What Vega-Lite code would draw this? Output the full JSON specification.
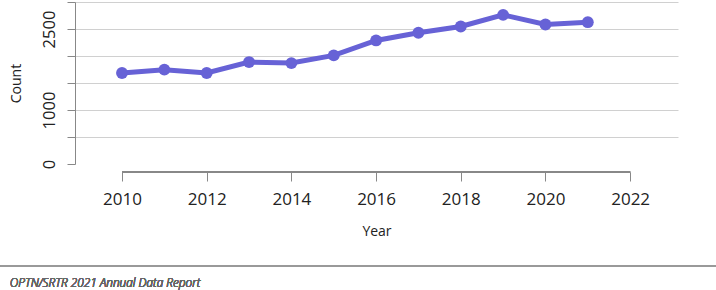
{
  "$schema": "https://vega.github.io/schema/vega-lite/v6.json",
  "autosize": "none",
  "width": 603,
  "height": 162,
  "padding": {"left": 75, "top": 2, "right": 38, "bottom": 126},
  "background": "white",
  "config": {
    "view": {"stroke": null},
    "font": "Open Sans",
    "axis": {"labelFont": "Open Sans", "titleFont": "Open Sans", "labelColor": "#222", "titleColor": "#222", "titleFontWeight": "normal"}
  },
  "data": {
    "values": [
      {"Year": 2010, "Count": 1685},
      {"Year": 2011, "Count": 1747},
      {"Year": 2012, "Count": 1685},
      {"Year": 2013, "Count": 1888},
      {"Year": 2014, "Count": 1869},
      {"Year": 2015, "Count": 2011},
      {"Year": 2016, "Count": 2288},
      {"Year": 2017, "Count": 2430},
      {"Year": 2018, "Count": 2546},
      {"Year": 2019, "Count": 2762},
      {"Year": 2020, "Count": 2583},
      {"Year": 2021, "Count": 2626}
    ]
  },
  "layer": [
    {
      "mark": {"type": "line", "color": "#6762d6", "strokeWidth": 5, "point": {"filled": true, "size": 140, "color": "#6762d6", "opacity": 1}},
      "encoding": {
        "x": {
          "field": "Year", "type": "quantitative",
          "scale": {"domain": [2008.89, 2023.13], "nice": false, "zero": false},
          "axis": {
            "values": [2010, 2012, 2014, 2016, 2018, 2020, 2022],
            "format": "d",
            "domain": false,
            "grid": false,
            "offset": 8,
            "tickColor": "#888",
            "tickSize": 9,
            "labelFontSize": 17,
            "labelPadding": 10,
            "title": "Year",
            "titleFontSize": 14,
            "titlePadding": 17
          }
        },
        "y": {
          "field": "Count", "type": "quantitative",
          "scale": {"domain": [0, 3000], "nice": false},
          "axis": {
            "values": [0, 500, 1000, 1500, 2000, 2500, 3000],
            "labelExpr": "(datum.value == 0 || datum.value == 1000 || datum.value == 2500) ? datum.label : ''",
            "format": "d",
            "grid": true,
            "domainColor": "#888",
            "tickColor": "#888",
            "tickSize": 8,
            "gridColor": "#d0d0d0",
            "gridOpacity": {"condition": {"test": "datum.value === 0", "value": 0}, "value": 1},
            "labelAngle": -90,
            "labelAlign": "center",
            "labelBaseline": "bottom",
            "labelPadding": 10,
            "labelFontSize": 16.5,
            "labelOverlap": false,
            "title": "Count",
            "titleFontSize": 14,
            "titlePadding": 18
          }
        }
      }
    },
    {
      "mark": {"type": "rule", "color": "#888", "strokeWidth": 1},
      "encoding": {
        "x": {"datum": 2010, "type": "quantitative", "axis": {"values": [2010, 2012, 2014, 2016, 2018, 2020, 2022]}},
        "x2": {"datum": 2022},
        "y": {"datum": -148, "type": "quantitative", "axis": {"values": [0, 500, 1000, 1500, 2000, 2500, 3000]}}
      }
    },
    {
      "mark": {"type": "rule", "color": "#999", "strokeWidth": 2},
      "encoding": {
        "x": {"datum": 2007.12, "type": "quantitative", "axis": {"values": [2010, 2012, 2014, 2016, 2018, 2020, 2022]}},
        "x2": {"datum": 2025.8},
        "y": {"datum": -1889, "type": "quantitative", "axis": {"values": [0, 500, 1000, 1500, 2000, 2500, 3000]}}
      }
    },
    {
      "mark": {"type": "text", "align": "left", "baseline": "middle", "font": "Open Sans", "fontStyle": "italic", "fontWeight": 300, "fontSize": 11.8, "color": "#666"},
      "encoding": {
        "x": {"datum": 2007.35, "type": "quantitative", "axis": {"values": [2010, 2012, 2014, 2016, 2018, 2020, 2022]}},
        "y": {"datum": -2204, "type": "quantitative", "axis": {"values": [0, 500, 1000, 1500, 2000, 2500, 3000]}},
        "text": {"value": "OPTN/SRTR 2021 Annual Data Report"}
      }
    }
  ]
}
